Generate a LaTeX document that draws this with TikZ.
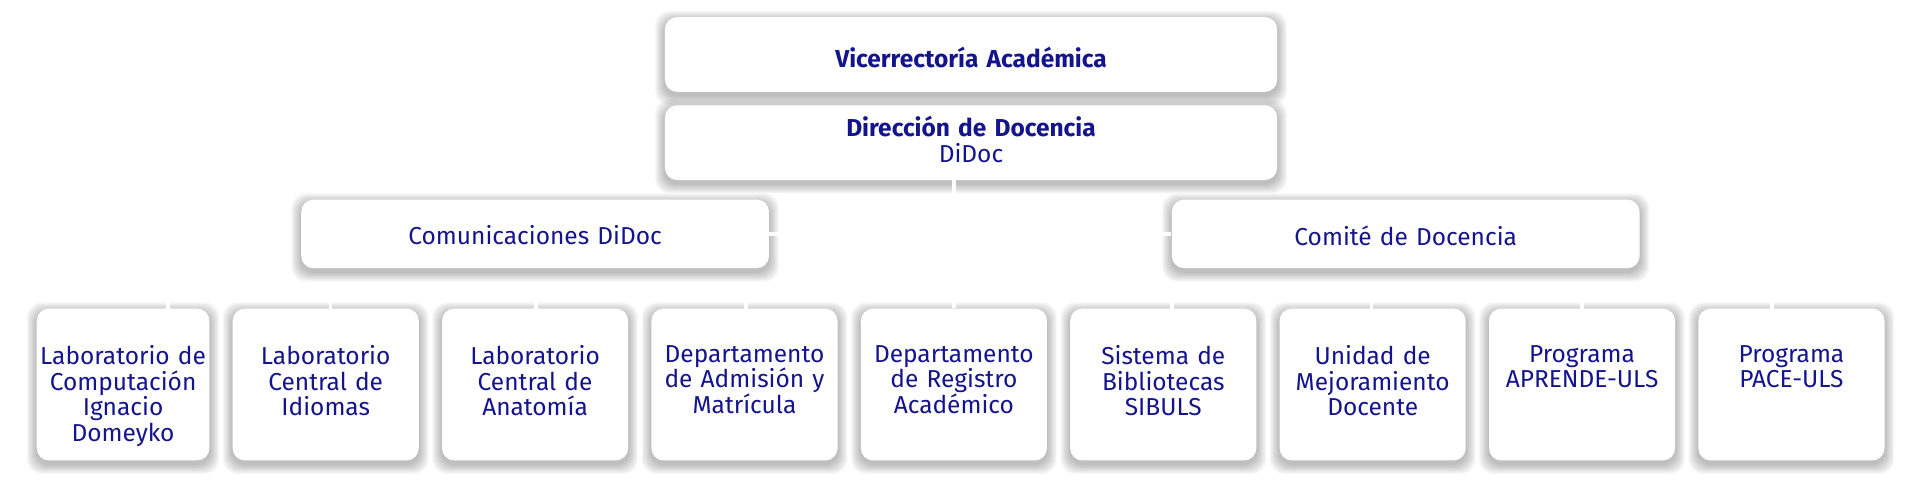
\documentclass[tikz,border=0pt]{standalone}
\usepackage{fontspec}
\setmainfont{Fira Sans}
\definecolor{navy}{HTML}{14148C}
\begin{document}
\begin{tikzpicture}[x=0.5pt,y=-0.5pt,
  box/.style={draw=none,fill=white,rounded corners=5pt,inner sep=0pt},
  shd/.style={draw=none,fill=black,fill opacity=0.035,rounded corners=6pt,inner sep=0pt},
  txt/.style={text=navy,align=center,font=\fontsize{10}{10.5}\selectfont},
  ln/.style={draw=white,line width=1.5pt}]
\useasboundingbox (0,0) rectangle (1568,408);
\newcommand\bx[7]{%
  \foreach \k in {1,...,8}{\node[shd,minimum width=(#4+2*\k)*0.5pt,minimum height=(#5+2*\k)*0.5pt] at (#2,#3+3) {};}
  \node[box,minimum width=#4*0.5pt,minimum height=#5*0.5pt] (#1) at (#2,#3) {};
  \node[txt,text width=#4*0.5pt,anchor=north] at (#2,#7-6) {#6};}
\bx{va}{793}{44.5}{500}{61}{\textbf{Vicerrectoría Académica}}{37}
\bx{dd}{793}{116.5}{500}{61}{\textbf{Dirección de Docencia}\\DiDoc}{94}
\bx{cd}{437}{191}{382}{56}{Comunicaciones DiDoc}{183}
\bx{cm}{1148}{191}{382}{56}{Comité de Docencia}{183}
\bx{b1}{100.5}{314}{141}{124}{Laboratorio de\\Computación\\Ignacio\\Domeyko}{281}
\bx{b2}{266}{314}{152}{124}{Laboratorio\\Central de\\Idiomas}{281}
\bx{b3}{437}{314}{152}{124}{Laboratorio\\Central de\\Anatomía}{281}
\bx{b4}{608}{314}{152}{124}{Departamento\\de Admisión y\\Matrícula}{281}
\bx{b5}{779}{314}{152}{124}{Departamento\\de Registro\\Académico}{281}
\bx{b6}{950}{314}{152}{124}{Sistema de\\Bibliotecas\\SIBULS}{281}
\bx{b7}{1121}{314}{152}{124}{Unidad de\\Mejoramiento\\Docente}{281}
\bx{b8}{1292}{314}{152}{124}{Programa\\APRENDE-ULS}{281}
\bx{b9}{1463}{314}{152}{124}{Programa\\PACE-ULS}{281}
\draw[ln] (dd.south) ++(-14,0) coordinate (t) -- (t |- b5.north);
\draw[ln] (cd.east) -- (cm.west);
\foreach \n/\x in {b1/137,b2/270,b3/438,b4/609,b6/957,b7/1120,b8/1292,b9/1447}{\draw[ln] (\x,238) -- (\x,252);}
\end{tikzpicture}
\end{document}
